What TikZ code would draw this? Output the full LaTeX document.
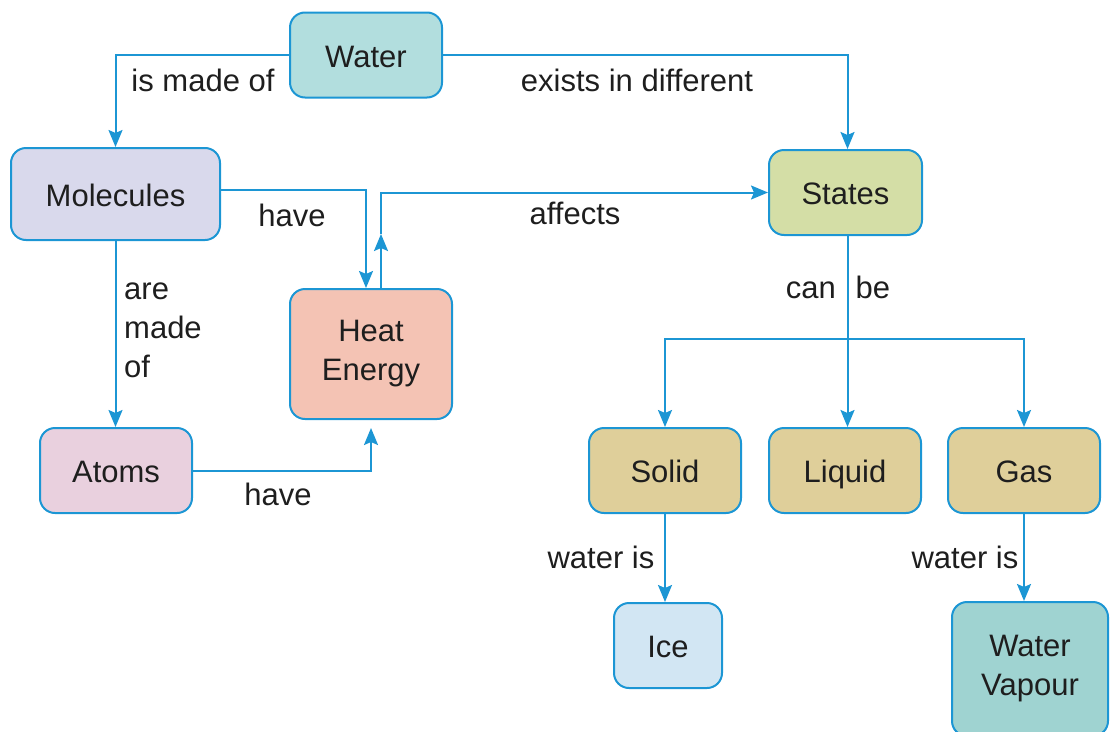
\documentclass[tikz,border=0pt]{standalone}
\usepackage{fontspec}
\setmainfont{Liberation Sans}
\usetikzlibrary{arrows.meta}
\definecolor{lineblue}{RGB}{28,150,212}
\definecolor{txt}{RGB}{30,30,30}
\definecolor{cWater}{RGB}{178,222,222}
\definecolor{cMol}{RGB}{217,217,236}
\definecolor{cStates}{RGB}{212,222,166}
\definecolor{cHeat}{RGB}{244,195,180}
\definecolor{cAtoms}{RGB}{233,208,222}
\definecolor{cPhase}{RGB}{223,207,154}
\definecolor{cIce}{RGB}{210,230,243}
\definecolor{cVap}{RGB}{159,211,209}
\tikzset{
  box/.style={draw=lineblue, line width=2pt, rounded corners=15pt, text=txt,
    align=center, inner sep=0pt, font=\fontsize{31}{39}\selectfont},
  one/.style={text height=26pt, text depth=2pt},
  lbl/.style={text=txt, inner sep=0pt, font=\fontsize{31}{39}\selectfont},
  arr/.style={draw=lineblue, line width=2pt, -{Stealth[length=17pt,width=14pt,inset=3pt]}},
}
\begin{document}
\begin{tikzpicture}[x=1pt,y=-1pt]
\useasboundingbox (0,0) rectangle (1110,731);
\clip (0,0) rectangle (1110,731);
% nodes
\node[box, one, fill=cWater, minimum width=152pt, minimum height=85pt] (water) at (366,55) {Water};
\node[box, one, fill=cMol, minimum width=209pt, minimum height=92pt] (molecules) at (115.5,194) {Molecules};
\node[box, one, fill=cStates, minimum width=153pt, minimum height=85pt] (states) at (845.5,192.5) {States};
\node[box, fill=cHeat, minimum width=162pt, minimum height=130pt] (heat) at (371,354) {Heat\\Energy};
\node[box, one, fill=cAtoms, minimum width=152pt, minimum height=85pt] (atoms) at (116,470.5) {Atoms};
\node[box, one, fill=cPhase, minimum width=152pt, minimum height=85pt] (solid) at (665,470.5) {Solid};
\node[box, one, fill=cPhase, minimum width=152pt, minimum height=85pt] (liquid) at (845,470.5) {Liquid};
\node[box, one, fill=cPhase, minimum width=152pt, minimum height=85pt] (gas) at (1024,470.5) {Gas};
\node[box, one, fill=cIce, minimum width=108pt, minimum height=85pt] (ice) at (668,645.5) {Ice};
\node[box, fill=cVap, minimum width=156pt, minimum height=134pt] (vapour) at (1030,669) {Water\\Vapour};
% connectors
\draw[arr] (water.west) -| (molecules.north);
\draw[arr] (water.east) -| ([xshift=2pt]states.north);
\draw[arr] ([yshift=4pt]molecules.east) -| ([xshift=-5pt]heat.north);
\draw[arr] ([xshift=10pt]heat.north) -- ++(0,-54) coordinate (mid);
\draw[arr] (mid) |- (states.west);
\draw[arr] (molecules.south) -- (molecules.south |- atoms.north);
\draw[arr] (atoms.east) -| ([yshift=-8pt]heat.south);
\draw[arr] ([xshift=2pt]states.south) -- ([xshift=2pt]states.south |- liquid.north);
\path ([xshift=2pt]states.south) ++(0,103) coordinate (branch);
\draw[arr] (branch) -| (solid.north);
\draw[arr] (branch) -| (gas.north);
\draw[arr] (solid.south) -- (solid.south |- ice.north);
\draw[arr] (gas.south) -- (gas.south |- vapour.north);
% labels
\node[lbl] (l1) at (203,80) {is made of};
\node[lbl] (l2) at (637,80) {exists in different};
\node[lbl] (l3) at (292,215) {have};
\node[lbl] (l4) at (575,213) {affects};
\node[lbl, align=left, anchor=west] (l5) at (124,330) {are\\made\\of};
\node[lbl] (l6) at (278,494) {have};
\node[lbl] (l7) at (838,287) {can\hspace{20pt}be};
\node[lbl] (l8) at (601,557) {water is};
\node[lbl] (l9) at (965,557) {water is};
\end{tikzpicture}
\end{document}
